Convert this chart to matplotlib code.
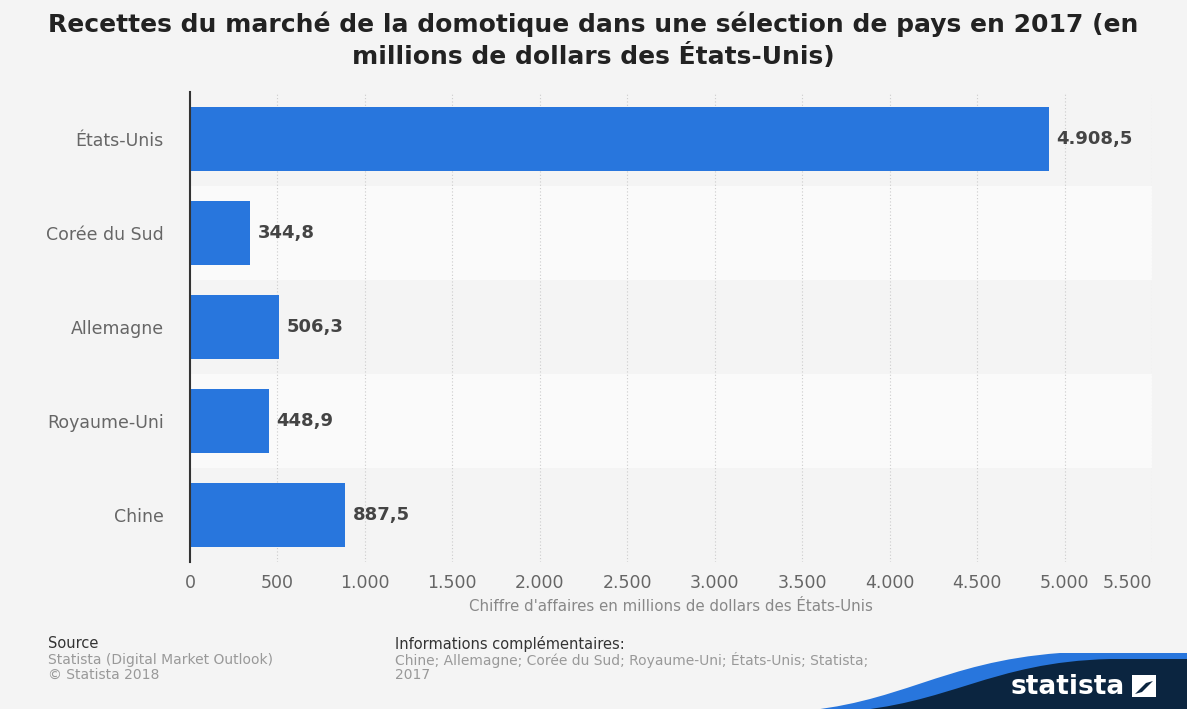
import matplotlib.pyplot as plt
import matplotlib.patches as mpatches
from matplotlib.path import Path
import numpy as np

plt.rcParams['font.family'] = ['DejaVu Sans']

# données
pays = ['États-Unis', 'Corée du Sud', 'Allemagne', 'Royaume-Uni', 'Chine']
recettes = [4908.5, 344.8, 506.3, 448.9, 887.5]
ticks_x = [0, 500, 1000, 1500, 2000, 2500, 3000, 3500, 4000, 4500, 5000, 5500]

W, H = 1187, 709
fond = '#f4f4f4'
bleu = '#2876dd'


def px(x, y):
    # pixels -> coordonnées figure
    return (x / W, 1 - y / H)


def fmt(v, dec=0):
    s = f'{v:,.{dec}f}'
    return s.replace(',', ' ').replace('.', ',').replace(' ', '.')


fig = plt.figure(figsize=(W / 100, H / 100), dpi=100, facecolor=fond)
ax = fig.add_axes([190 / W, 1 - 562 / H, (1152 - 190) / W, (562 - 92) / H])
ax.set_facecolor(fond)

y = np.arange(len(pays))
# bandes alternées
for i in y:
    if i % 2 == 1:
        ax.axhspan(i - 0.5, i + 0.5, color='#fafafa', zorder=0, lw=0)

ax.barh(y, recettes, height=0.69, color=bleu, zorder=3)
ax.set_ylim(len(pays) - 0.5, -0.5)
ax.set_xlim(0, 5500)

for i, v in enumerate(recettes):
    ax.text(v + 45, i, fmt(v, 1), va='center', ha='left', fontsize=13,
            fontweight='bold', color='#444444', zorder=4)

ax.set_xticks(ticks_x)
ax.set_xticklabels([fmt(t) for t in ticks_x], fontsize=12.5, color='#666666')
ax.get_xticklabels()[-1].set_horizontalalignment('right')
ax.set_yticks(y)
ax.set_yticklabels(pays, fontsize=12.5, color='#666666')
ax.tick_params(axis='x', length=0, pad=9)
ax.tick_params(axis='y', length=0, pad=19)

for t in ticks_x[1:]:
    ax.axvline(t, color='#cccccc', ls=(0, (1, 2)), lw=0.8, zorder=1)

for s in ['top', 'right', 'bottom']:
    ax.spines[s].set_visible(False)
ax.spines['left'].set_color('#333333')
ax.spines['left'].set_linewidth(1.5)
ax.spines['left'].set_zorder(5)

ax.set_xlabel("Chiffre d'affaires en millions de dollars des États-Unis",
              fontsize=10.8, color='#888888', labelpad=5)

fig.text(0.5, 1 - 40 / H,
         "Recettes du marché de la domotique dans une sélection de pays en 2017 (en\n"
         "millions de dollars des États-Unis)",
         ha='center', va='center', fontsize=18, fontweight='bold',
         color='#222222', linespacing=1.27)

# pied de page
fig.text(*px(48, 644), 'Source', fontsize=10.5, color='#333333', va='center')
fig.text(*px(48, 660), 'Statista (Digital Market Outlook)', fontsize=10, color='#999999', va='center')
fig.text(*px(48, 675), '© Statista 2018', fontsize=10, color='#999999', va='center')
fig.text(*px(395, 644), 'Informations complémentaires:', fontsize=10.5, color='#333333', va='center')
fig.text(*px(395, 660), 'Chine; Allemagne; Corée du Sud; Royaume-Uni; États-Unis; Statista;',
         fontsize=10, color='#999999', va='center')
fig.text(*px(395, 675), '2017', fontsize=10, color='#999999', va='center')


# logo statista
def vague(ytop, x_start):
    verts = [px(x_start, 712), px(x_start + 110, 705), px(x_start + 150, 662),
             px(x_start + 270, ytop), px(1190, ytop), px(1190, 712), px(x_start, 712)]
    codes = [Path.MOVETO, Path.CURVE4, Path.CURVE4, Path.CURVE4,
             Path.LINETO, Path.LINETO, Path.CLOSEPOLY]
    return Path(verts, codes)


fig.patches.append(mpatches.PathPatch(vague(653, 790), transform=fig.transFigure,
                                      facecolor=bleu, lw=0))
fig.patches.append(mpatches.PathPatch(vague(659, 840), transform=fig.transFigure,
                                      facecolor='#0b2540', lw=0))
fig.text(*px(1068, 687), 'statista', fontsize=19, fontweight='bold', color='white',
         ha='center', va='center')
fig.patches.append(mpatches.Rectangle(px(1132, 697), 24 / W, 22 / H, transform=fig.transFigure,
                                      facecolor='white', lw=0))
fig.patches.append(mpatches.Polygon([px(1135, 694), px(1146, 683), px(1153, 681), px(1142, 692)],
                                    closed=True, transform=fig.transFigure,
                                    facecolor='#0b2540', lw=0))

fig.savefig('out.png', dpi=100, facecolor=fond)
